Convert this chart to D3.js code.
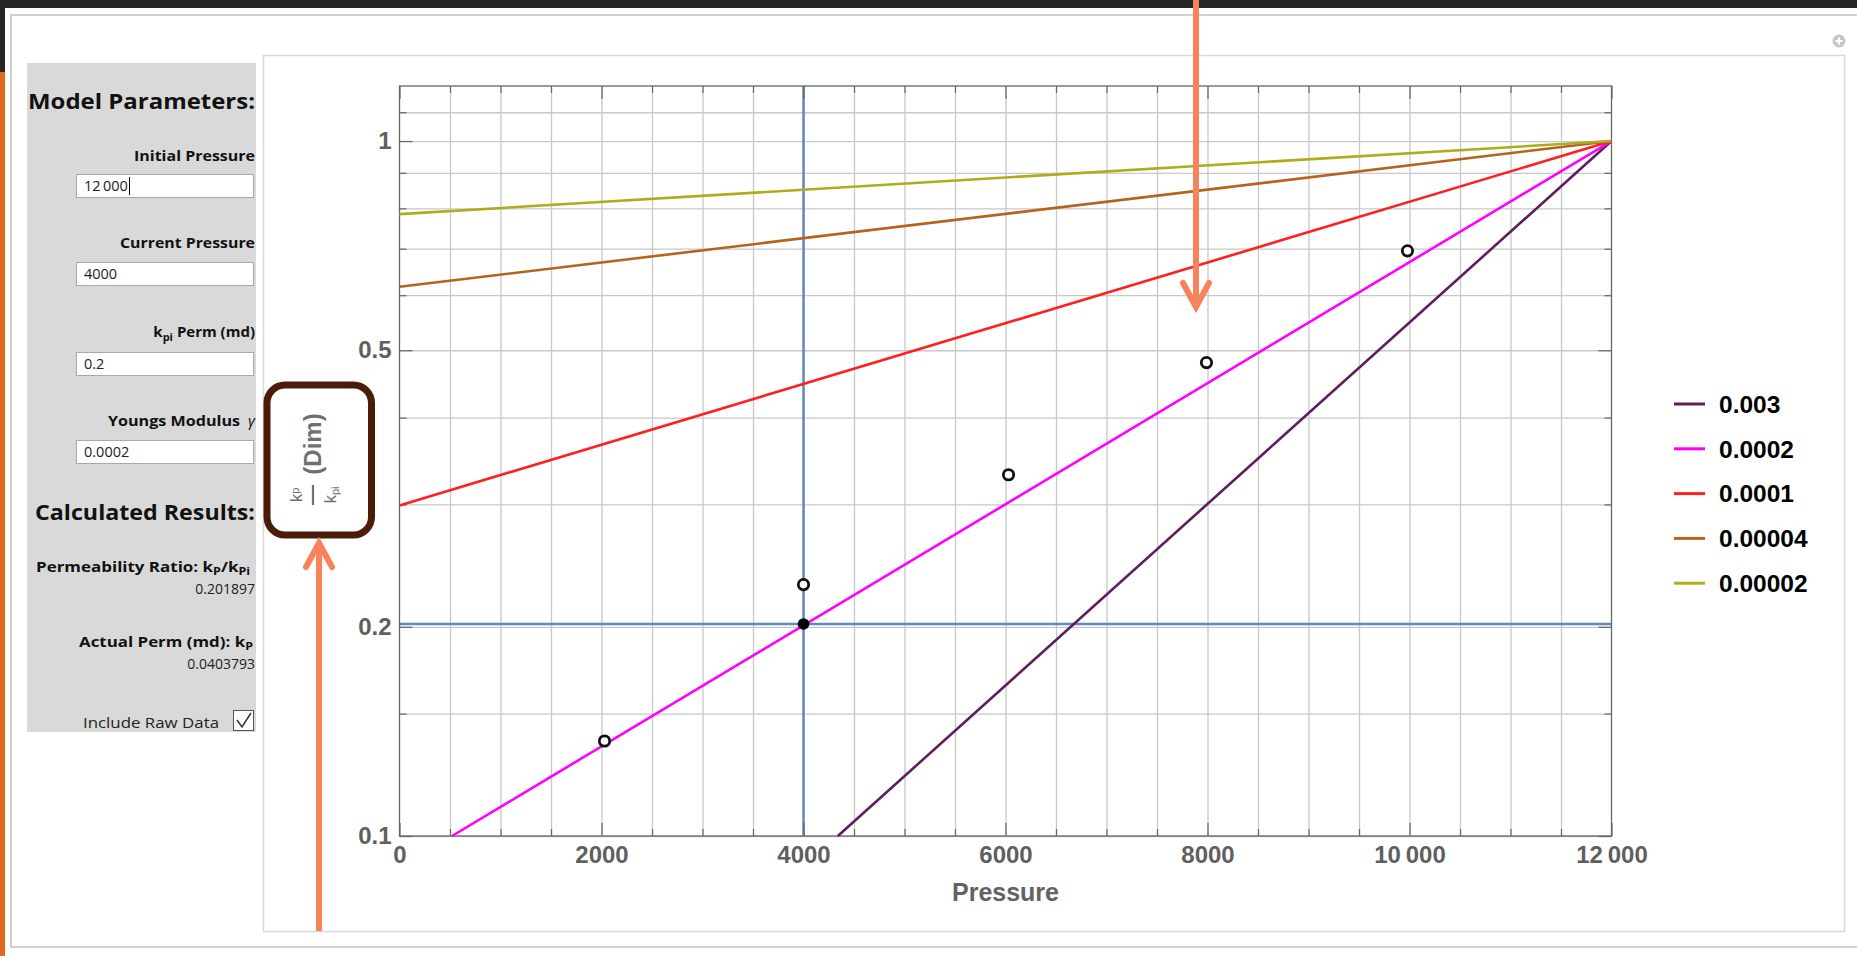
<!DOCTYPE html>
<html>
<head>
<meta charset="utf-8">
<script src="https://cdn.jsdelivr.net/npm/d3@7"></script>
<style>
  body { margin: 0; background: #fff; }
  svg { display: block; }
</style>
</head>
<body>
<script>
const w = 1857;
const h = 956;

// legend (gamma) labels and line colours
const seriesLabels = ['0.003', '0.0002', '0.0001', '0.00004', '0.00002'];
const seriesColors = ['#5e1e5c', '#ff00ff', '#ff1f1f', '#b4641c', '#adad1a'];

const startPressure = [4340, 520, 0, 0, 0];
const startRatio = [0.1, 0.1, 0.299, 0.617, 0.785];
const endPressure = [12000, 12000, 12000, 12000, 12000];
const endRatio = [1, 1, 1, 1, 1];

// raw data (open circles)
const rawPressure = [2030, 4000, 6030, 7990, 9980];
const rawRatio = [0.137, 0.23, 0.331, 0.48, 0.695];

// current pressure marker
const currentPressure = 4000;
const currentRatio = 0.201897;

const xMajorTicks = [0, 2000, 4000, 6000, 8000, 10000, 12000];
const yMajorTicks = [0.1, 0.2, 0.5, 1];
const yMinorTicks = [0.15, 0.3, 0.4, 0.6, 0.7, 0.8, 0.9, 1.1];

// control panel texts
const inputLabels = ['Initial Pressure', 'Current Pressure', 'Perm (md)', 'Youngs Modulus'];
const inputValues = ['12\u2009000', '4000', '0.2', '0.0002'];
const resultValues = ['0.201897', '0.0403793'];

const svg = d3.select('body')
  .append('svg')
  .attr('width', w)
  .attr('height', h);

// ---- window chrome ----
svg.append('rect').attr('width', w).attr('height', h).attr('fill', '#fff');
svg.append('rect').attr('x', 0).attr('y', 0).attr('width', w).attr('height', 8).attr('fill', '#262626');
svg.append('rect').attr('x', 0).attr('y', 0).attr('width', 5).attr('height', 72).attr('fill', '#262626');
svg.append('rect').attr('x', 0).attr('y', 72).attr('width', 5).attr('height', h - 72).attr('fill', '#e2691c');
svg.append('rect')
  .attr('x', 11).attr('y', 15).attr('width', w).attr('height', 932)
  .attr('fill', 'none').attr('stroke', '#d0d0d0').attr('stroke-width', 2);

svg.append('rect')
  .attr('x', 263.5).attr('y', 55.5).attr('width', 1581).attr('height', 876)
  .attr('fill', '#fff').attr('stroke', '#d8d8d8').attr('stroke-width', 1.5);

const closeIcon = svg.append('g').attr('transform', 'translate(1839,41)');
closeIcon.append('circle').attr('r', 6.5).attr('fill', '#c6c6c6');
closeIcon.append('path').attr('d', 'M-3.5,0H3.5M0,-3.5V3.5').attr('stroke', '#fff').attr('stroke-width', 2);

// ---- control panel ----
const panel = svg.append('g')
  .style('font-family', '"Open Sans", "DejaVu Sans", sans-serif');

panel.append('rect').attr('x', 27).attr('y', 63).attr('width', 229).attr('height', 669).attr('fill', '#d9d9d9');

function panelText(str, xEnd, yBase, size, weight, len) {
  const t = panel.append('text')
    .attr('x', xEnd).attr('y', yBase)
    .attr('text-anchor', 'end')
    .style('font-size', size + 'px')
    .style('font-weight', weight)
    .style('fill', '#111')
    .text(str);
  if (len) t.attr('textLength', len).attr('lengthAdjust', 'spacingAndGlyphs');
  return t;
}

panelText('Model Parameters:', 255, 109, 22, 700, 227);

const labelBase = [161, 248, 337, 426];
const labelLen = [121, 135, 100, 132];
const boxTop = [174, 262, 352, 440];

inputLabels.forEach((lab, i) => {
  if (i === 2) {
    const t = panelText('', 255, labelBase[i], 15, 700, null);
    t.append('tspan').text('k');
    t.append('tspan').attr('dy', 4).style('font-size', '11px').text('pi');
    t.append('tspan').attr('dy', -4).text(' ' + lab);
  } else if (i === 3) {
    const t = panelText('', 240, labelBase[i], 15, 700, labelLen[i]);
    t.text(lab);
    panel.append('text').attr('x', 255).attr('y', labelBase[i]).attr('text-anchor', 'end')
      .style('font-size', '15px').style('font-style', 'italic').style('fill', '#111').text('\u03b3');
  } else {
    panelText(lab, 255, labelBase[i], 15, 700, labelLen[i]);
  }
  panel.append('rect')
    .attr('x', 76.5).attr('y', boxTop[i] + 0.5).attr('width', 177).attr('height', 23)
    .attr('fill', '#fff').attr('stroke', '#a9a9a9');
  panel.append('text')
    .attr('x', 84).attr('y', boxTop[i] + 17)
    .style('font-size', '14.5px').style('fill', '#222')
    .text(inputValues[i]);
});
// text cursor in first box
panel.append('line').attr('x1', 129.5).attr('x2', 129.5).attr('y1', 177).attr('y2', 195).attr('stroke', '#000').attr('stroke-width', 1);

panelText('Calculated Results:', 255, 520, 22, 700, 220);

const pr = panelText('', 250, 572, 15, 700, 214);
pr.append('tspan').text('Permeability Ratio: k');
pr.append('tspan').attr('dy', 3).style('font-size', '11px').text('P');
pr.append('tspan').attr('dy', -3).text('/k');
pr.append('tspan').attr('dy', 3).style('font-size', '11px').text('Pi');
panelText(resultValues[0], 255, 594, 14, 400, null).style('fill', '#222');

const ap = panelText('', 253, 647, 15, 700, 174);
ap.append('tspan').text('Actual Perm (md): k');
ap.append('tspan').attr('dy', 3).style('font-size', '11px').text('P');
panelText(resultValues[1], 255, 669, 14, 400, null).style('fill', '#222');

panelText('Include Raw Data', 219, 728, 14, 400, 136).style('fill', '#222');
panel.append('rect').attr('x', 233.5).attr('y', 710.5).attr('width', 20).attr('height', 20)
  .attr('fill', '#fff').attr('stroke', '#555');
panel.append('path').attr('d', 'M237,720 L242,727 L251,713')
  .attr('fill', 'none').attr('stroke', '#333').attr('stroke-width', 1.5);

// ---- plot ----
const pLeft = 399.5, pRight = 1611.5, pTop = 86, pBottom = 836;
const x = d3.scaleLinear().domain([0, 12000]).range([pLeft, pRight]);
const y = d3.scaleLog().domain([0.1, 1.2]).range([pBottom, pTop]);

const fmtX = d => d >= 10000 ? d3.format(',')(d).replace(',', '\u2009') : String(d);
const fmtY = d => String(d);

// grid
svg.append('g')
  .attr('transform', `translate(0,${pBottom})`)
  .call(d3.axisBottom(x).tickValues(d3.range(500, 12000, 500)).tickSize(-(pBottom - pTop)).tickFormat(''))
  .call(g => g.select('.domain').remove())
  .selectAll('line').attr('stroke', '#c8c8c8').attr('stroke-width', 1.3);

svg.append('g')
  .attr('transform', `translate(${pLeft},0)`)
  .call(d3.axisLeft(y).tickValues(yMajorTicks.concat(yMinorTicks)).tickSize(-(pRight - pLeft)).tickFormat(''))
  .call(g => g.select('.domain').remove())
  .selectAll('line').attr('stroke', '#c8c8c8').attr('stroke-width', 1.3);

// current pressure guide lines
svg.append('line')
  .attr('x1', x(currentPressure)).attr('x2', x(currentPressure))
  .attr('y1', pTop).attr('y2', pBottom)
  .attr('stroke', '#6487bf').attr('stroke-width', 2.5);
svg.append('line')
  .attr('x1', pLeft).attr('x2', pRight)
  .attr('y1', y(currentRatio)).attr('y2', y(currentRatio))
  .attr('stroke', '#6487bf').attr('stroke-width', 2.5);

// frame ticks
function styleAxis(g, labels) {
  g.select('.domain').remove();
  g.selectAll('line').attr('stroke', '#666').attr('stroke-width', 1.2);
  if (labels) {
    g.selectAll('text')
      .style('font-family', '"Liberation Sans", Arial, sans-serif')
      .style('font-size', '24px')
      .style('font-weight', 'bold')
      .attr('fill', '#5f5f5f');
  }
}

const xMinor = d3.range(0, 12001, 500).filter(d => xMajorTicks.indexOf(d) < 0);

svg.append('g').attr('transform', `translate(0,${pBottom})`)
  .call(d3.axisBottom(x).tickValues(xMajorTicks).tickSize(-13).tickPadding(10).tickFormat(fmtX))
  .call(g => styleAxis(g, true));
svg.append('g').attr('transform', `translate(0,${pBottom})`)
  .call(d3.axisBottom(x).tickValues(xMinor).tickSize(-7).tickFormat(''))
  .call(g => styleAxis(g, false));
svg.append('g').attr('transform', `translate(0,${pTop})`)
  .call(d3.axisTop(x).tickValues(xMajorTicks).tickSize(-13).tickFormat(''))
  .call(g => styleAxis(g, false));
svg.append('g').attr('transform', `translate(0,${pTop})`)
  .call(d3.axisTop(x).tickValues(xMinor).tickSize(-7).tickFormat(''))
  .call(g => styleAxis(g, false));

svg.append('g').attr('transform', `translate(${pLeft},0)`)
  .call(d3.axisLeft(y).tickValues(yMajorTicks).tickSize(-13).tickPadding(8).tickFormat(fmtY))
  .call(g => styleAxis(g, true));
svg.append('g').attr('transform', `translate(${pLeft},0)`)
  .call(d3.axisLeft(y).tickValues(yMinorTicks).tickSize(-7).tickFormat(''))
  .call(g => styleAxis(g, false));
svg.append('g').attr('transform', `translate(${pRight},0)`)
  .call(d3.axisRight(y).tickValues(yMajorTicks).tickSize(-13).tickFormat(''))
  .call(g => styleAxis(g, false));
svg.append('g').attr('transform', `translate(${pRight},0)`)
  .call(d3.axisRight(y).tickValues(yMinorTicks).tickSize(-7).tickFormat(''))
  .call(g => styleAxis(g, false));

svg.append('rect')
  .attr('x', pLeft).attr('y', pTop).attr('width', pRight - pLeft).attr('height', pBottom - pTop)
  .attr('fill', 'none').attr('stroke', '#666').attr('stroke-width', 1.3);

// curves
const line = d3.line().x(d => x(d[0])).y(d => y(d[1]));
seriesLabels.forEach((lab, i) => {
  svg.append('path')
    .datum([[startPressure[i], startRatio[i]], [endPressure[i], endRatio[i]]])
    .attr('d', line)
    .attr('fill', 'none')
    .attr('stroke', seriesColors[i])
    .attr('stroke-width', 2.6);
});

// raw data
svg.selectAll('circle.raw')
  .data(rawPressure)
  .enter()
  .append('circle')
  .attr('class', 'raw')
  .attr('cx', d => x(d))
  .attr('cy', (d, i) => y(rawRatio[i]))
  .attr('r', 5.2)
  .attr('fill', '#fff')
  .attr('stroke', '#111')
  .attr('stroke-width', 2.8);

svg.append('circle')
  .attr('cx', x(currentPressure)).attr('cy', y(currentRatio))
  .attr('r', 5.8).attr('fill', '#000');

// x axis title
svg.append('text')
  .attr('x', (pLeft + pRight) / 2).attr('y', 901)
  .attr('text-anchor', 'middle')
  .style('font-family', '"Liberation Sans", Arial, sans-serif')
  .style('font-size', '25px')
  .style('font-weight', 'bold')
  .style('fill', '#626262')
  .text('Pressure');

// legend
const legend = svg.append('g')
  .style('font-family', '"Liberation Sans", Arial, sans-serif');
seriesLabels.forEach((lab, i) => {
  const ly = 404 + i * 44.8;
  legend.append('line')
    .attr('x1', 1674).attr('x2', 1705).attr('y1', ly).attr('y2', ly)
    .attr('stroke', seriesColors[i]).attr('stroke-width', 3);
  legend.append('text')
    .attr('x', 1719).attr('y', ly).attr('dy', '0.36em')
    .style('font-size', '24.5px').style('font-weight', 'bold').style('fill', '#000')
    .text(lab);
});

// y axis label inside highlight box
svg.append('rect')
  .attr('x', 267).attr('y', 385).attr('width', 104.5).attr('height', 150).attr('rx', 18)
  .attr('fill', '#fff').attr('stroke', '#4b1c09').attr('stroke-width', 7);

const yl = svg.append('g')
  .style('font-family', '"Liberation Sans", Arial, sans-serif')
  .style('fill', '#707070');
yl.append('text')
  .attr('transform', 'translate(313,444) rotate(-90)')
  .attr('text-anchor', 'middle').attr('dy', '0.35em')
  .style('font-size', '24px').style('font-weight', 'bold')
  .text('(Dim)');
const frac = yl.append('g').attr('transform', 'translate(313,495) rotate(-90)');
frac.append('line').attr('x1', -10).attr('x2', 10).attr('y1', 0).attr('y2', 0)
  .attr('stroke', '#707070').attr('stroke-width', 2.2);
const num = frac.append('text').attr('text-anchor', 'middle').attr('y', -11).style('font-size', '17px');
num.append('tspan').text('k');
num.append('tspan').attr('dy', -3).style('font-size', '11px').text('p');
const den = frac.append('text').attr('text-anchor', 'middle').attr('y', 23).style('font-size', '17px');
den.append('tspan').text('k');
den.append('tspan').attr('dy', 3).style('font-size', '11px').text('pi');

// annotation arrows
const arrowColor = '#f7835e';
function arrow(x0, y0, x1, y1, dir) {
  svg.append('line').attr('x1', x0).attr('y1', y0).attr('x2', x1).attr('y2', y1)
    .attr('stroke', arrowColor).attr('stroke-width', 6);
  svg.append('path')
    .attr('d', `M${x1 - 13},${y1 - dir * 24} L${x1},${y1} L${x1 + 13},${y1 - dir * 24}`)
    .attr('fill', 'none').attr('stroke', arrowColor).attr('stroke-width', 6)
    .attr('stroke-linecap', 'round').attr('stroke-linejoin', 'miter');
}
arrow(1196, 0, 1196, 307, 1);
arrow(319, 931, 319, 543, -1);
</script>
</body>
</html>
